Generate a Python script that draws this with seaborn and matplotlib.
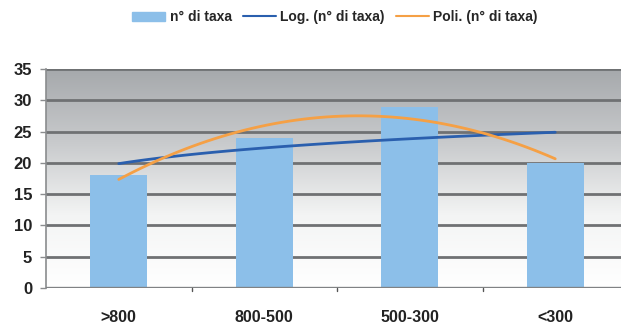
import numpy as np
import pandas as pd
import matplotlib
matplotlib.use("Agg")
import matplotlib.pyplot as plt
from matplotlib.colors import LinearSegmentedColormap
from matplotlib.patches import Patch
from matplotlib.lines import Line2D
import seaborn as sns

# Number of taxa per altitude band
categories = [">800", "800-500", "500-300", "<300"]
n_taxa = [18, 24, 29, 20]
y_ticks = [0, 5, 10, 15, 20, 25, 30, 35]

sns.set_theme(style="white")
plt.rcParams["font.family"] = ["Liberation Sans", "DejaVu Sans"]
plt.rcParams["font.weight"] = "bold"

W, H = 621, 324
fig = plt.figure(figsize=(W / 100, H / 100), dpi=100)
left_px, right_px, top_px, bottom_px = 46, 628, 69, 288
ax = fig.add_axes([left_px / W, 1 - bottom_px / H,
                   (right_px - left_px) / W, (bottom_px - top_px) / H])

# Gray-to-white vertical gradient behind the plot
grad = LinearSegmentedColormap.from_list("bg", ["#ffffff", "#f3f4f4", "#c8cacc", "#a6a9ac"])
ax.imshow(np.linspace(0, 1, 256).reshape(-1, 1), cmap=grad, aspect="auto",
          extent=(-0.5, 3.5, 0, 35), origin="lower", zorder=0)

df = pd.DataFrame({"band": categories, "taxa": n_taxa})
sns.barplot(data=df, x="band", y="taxa", color="#8cbfe9", saturation=1,
            width=0.39, linewidth=0, edgecolor="none", ax=ax, zorder=3)

# Trend lines fitted to the counts (x = 1..4)
xs = np.arange(1, len(n_taxa) + 1)
a, b = np.polyfit(np.log(xs), n_taxa, 1)
poly = np.polyfit(xs, n_taxa, 2)
xf = np.linspace(1, len(n_taxa), 60)
poly_fit = np.polyval(poly, xf)
log_curve = a * np.log(xf) + b

sns.lineplot(x=xf - 1, y=log_curve, color="#2a5fae", lw=2, ax=ax, zorder=4)
sns.lineplot(x=xf - 1, y=poly_fit, color="#f5a045", lw=2, ax=ax, zorder=5)

ax.set_xlim(-0.5, 3.5)
ax.set_ylim(0, 35)
ax.set_yticks(y_ticks)
ax.set_xlabel("")
ax.set_ylabel("")
for yv in y_ticks[1:]:
    ax.axhline(yv, color="#6f7173", lw=2.0, zorder=2)
ax.axhline(0, color="#808284", lw=2.4, zorder=6)

for s in ["top", "right", "bottom"]:
    ax.spines[s].set_visible(False)
ax.spines["left"].set_color("#8a8c8e")
ax.spines["left"].set_linewidth(1.2)
ax.tick_params(axis="y", left=True, length=4, width=1, color="#8a8c8e",
               labelsize=12, labelcolor="#222222", pad=6)
ax.tick_params(axis="x", bottom=False, labelsize=11.5, labelcolor="#222222", pad=9.5)
for t in ax.get_yticklabels() + ax.get_xticklabels():
    t.set_fontweight("bold")
for xv in [0.5, 1.5, 2.5]:
    ax.plot([xv, xv], [0, -0.45], color="#555555", lw=1, clip_on=False, zorder=7)

handles = [Patch(color="#8cbfe9", label="n° di taxa"),
           Line2D([], [], color="#2a5fae", lw=1.5, label="Log. (n° di taxa)"),
           Line2D([], [], color="#f5a045", lw=1.5, label="Poli. (n° di taxa)")]
fig.legend(handles=handles, loc="center", bbox_to_anchor=(335 / W, 1 - 17 / H),
           ncol=3, frameon=False, prop={"size": 10, "weight": "bold"},
           handlelength=2.4, handleheight=0.6, handletextpad=0.3, columnspacing=0.8)

fig.savefig("out.png", dpi=100)
